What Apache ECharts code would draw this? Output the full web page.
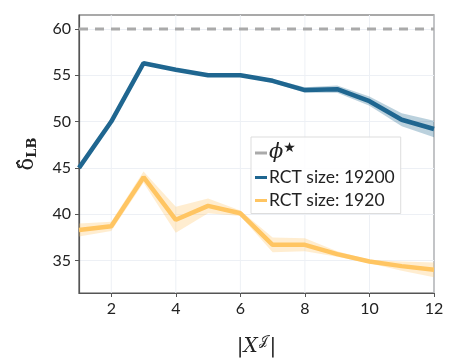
<!DOCTYPE html>
<html><head><meta charset="utf-8">
<script src="https://cdn.jsdelivr.net/npm/echarts@6/dist/echarts.min.js"></script>
<style>html,body{margin:0;padding:0;background:#fff}#c{width:457px;height:363px}</style>
</head><body><div id="c"></div>
<script>
const xs = [1,2,3,4,5,6,7,8,9,10,11,12];
const big = [45.0,50.0,56.3,55.6,55.0,55.0,54.4,53.4,53.5,52.2,50.2,49.2];
const bigErr = [0.1,0.1,0.1,0.1,0.1,0.15,0.2,0.3,0.4,0.5,0.7,0.9];
const small = [38.3,38.7,44.0,39.4,40.9,40.1,36.7,36.7,35.7,34.9,34.4,34.0];
const smallErr = [0.7,0.5,0.6,1.4,0.8,0.3,0.8,0.7,0.3,0.2,0.5,0.8];
const phiStar = 60;
const xTicks = [2,4,6,8,10,12];
const yTicks = [35,40,45,50,55,60];

const blue = '#1f6690', orange = '#ffc562';
const pairs = (arr) => xs.map((x,i)=>[x,arr[i]]);
const YMIN = 31.5, YMAX = 61.5;

const chart = echarts.init(document.getElementById('c'));
const band = (v, e, col) => ({
  type:'custom', silent:true, z:1,
  data: xs.map((x,i)=>[x, v[i]-e[i], v[i]+e[i]]),
  encode:{x:0, y:[1,2]},
  renderItem:(params, api) => {
    if (params.dataIndex !== 0) return null;
    const up = [], lo = [];
    for (let i=0;i<xs.length;i++){
      up.push(api.coord([xs[i], v[i]+e[i]]));
      lo.push(api.coord([xs[i], v[i]-e[i]]));
    }
    return {type:'polygon', shape:{points: up.concat(lo.reverse())}, style:{fill:col, opacity:0.3}};
  }
});
chart.setOption({
  animation:false,
  grid:{left:79, right:23, top:15, bottom:70, show:true, borderColor:'#555', borderWidth:1.2},
  xAxis:{type:'value', min:1, max:12, interval:1,
    axisLine:{show:true, lineStyle:{color:'#555', width:1.2}},
    axisTick:{show:true, length:4, lineStyle:{color:'#555'}, customValues:xTicks},
    axisLabel:{color:'#222', fontSize:16, fontFamily:'Lato', margin:8, customValues:xTicks},
    splitLine:{show:false},
    name:'{b||}{x|X}{s|𝒥}{b||}', nameLocation:'middle', nameGap:42,
    nameTextStyle:{rich:{b:{fontFamily:'DejaVu Serif', fontSize:20, color:'#222'}, x:{fontFamily:'DejaVu Serif', fontStyle:'italic', fontSize:20, color:'#222'}, s:{fontFamily:'DejaVu Serif', fontSize:13, color:'#222', verticalAlign:'top', padding:[0,2,10,1]}}}
  },
  yAxis:{type:'value', min:YMIN, max:YMAX, interval:5,
    axisLine:{show:true, lineStyle:{color:'#555', width:1.2}},
    axisTick:{show:true, length:4, lineStyle:{color:'#555'}, customValues:yTicks},
    axisLabel:{color:'#222', fontSize:16, fontFamily:'Lato', margin:8, customValues:yTicks},
    splitLine:{show:true, lineStyle:{color:'#edf0f5'}},
    name:'{d|δ̂}{s|LB}', nameLocation:'middle', nameGap:40, nameRotate:90,
    nameTextStyle:{rich:{d:{fontFamily:'DejaVu Serif', fontSize:21, color:'#222'}, s:{fontFamily:'DejaVu Serif', fontWeight:'bold', fontSize:13, color:'#222', padding:[10,0,0,0]}}}
  },
  legend:{left:251, top:137, orient:'vertical', itemWidth:12, itemHeight:3, itemGap:5,
    padding:[4,6,4,4], borderColor:'#ddd', borderWidth:1, backgroundColor:'rgba(255,255,255,0.85)',
    icon:'rect', textStyle:{fontFamily:'Lato', fontSize:17.5, color:'#222', padding:[0,0,0,-3],
      rich:{p:{fontFamily:'DejaVu Serif', fontStyle:'italic', fontSize:21, color:'#222'}, st:{fontFamily:'DejaVu Sans', fontSize:14, color:'#222', padding:[0,0,10,0]}}},
    data:[{name:'phi', itemStyle:{color:'#aaa'}}, 'RCT size: 19200', 'RCT size: 1920'],
    formatter:(n)=> n==='phi' ? '{p|ϕ}{st|★}' : n
  },
  series:[
    {type:'custom', name:'grid', silent:true, z:0, data:xTicks.map(x=>[x]), encode:{x:0},
      renderItem:(params, api) => {
        const a = api.coord([api.value(0), YMIN]), b = api.coord([api.value(0), YMAX]);
        return {type:'line', shape:{x1:a[0], y1:a[1], x2:b[0], y2:b[1]}, style:{stroke:'#edf0f5', lineWidth:1}};
      }},
    band(big, bigErr, blue),
    band(small, smallErr, orange),
    {type:'line', name:'phi', data:[[1,phiStar],[12,phiStar]], symbol:'none', lineStyle:{color:'#aaa', width:3, type:[9,7]}, itemStyle:{color:'#aaa'}, z:2},
    {type:'line', name:'RCT size: 19200', data:pairs(big), symbol:'none', lineStyle:{color:blue, width:4.5}, itemStyle:{color:blue}, z:3},
    {type:'line', name:'RCT size: 1920', data:pairs(small), symbol:'none', lineStyle:{color:orange, width:4.5}, itemStyle:{color:orange}, z:3}
  ]
});
</script></body></html>
